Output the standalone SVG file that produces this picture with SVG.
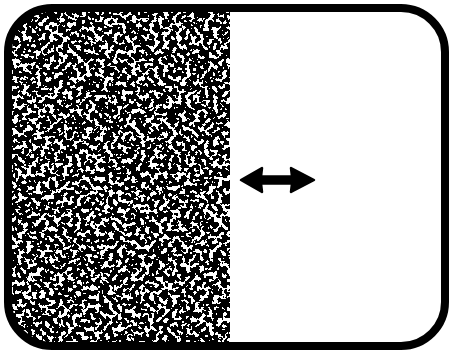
<svg xmlns="http://www.w3.org/2000/svg" width="455" height="354" viewBox="0 0 455 354">
  <defs>
    <clipPath id="inner">
      <rect x="8" y="8" width="437" height="338" rx="44" ry="44"/>
    </clipPath>
    <filter id="grain" filterUnits="userSpaceOnUse" x="0" y="0" width="230" height="354" color-interpolation-filters="sRGB">
      <feTurbulence type="fractalNoise" baseFrequency="0.22" numOctaves="2" seed="7" result="n"/>
      <feColorMatrix in="n" type="matrix" values="1 0 0 0 0  1 0 0 0 0  1 0 0 0 0  0 0 0 0 1" result="g"/>
      <feComponentTransfer in="g">
        <feFuncR type="discrete" tableValues="0 0 0 0 0 0 0 0 0 0 0 1 1 1 1 1 1 1 1 1"/>
        <feFuncG type="discrete" tableValues="0 0 0 0 0 0 0 0 0 0 0 1 1 1 1 1 1 1 1 1"/>
        <feFuncB type="discrete" tableValues="0 0 0 0 0 0 0 0 0 0 0 1 1 1 1 1 1 1 1 1"/>
      </feComponentTransfer>
    </filter>
    <style>
      .frame { fill: none; stroke: #000; stroke-width: 8; }
      .arrow { fill: #000; stroke: #000; stroke-width: 2.5; stroke-linejoin: round; }
    </style>
  </defs>
  <rect width="455" height="354" fill="#fff"/>
  <g id="stippled-half" clip-path="url(#inner)">
    <rect x="0" y="0" width="228" height="354" fill="#000" filter="url(#grain)"/>
  </g>
  <g id="frame">
    <rect class="frame" x="8" y="8" width="437" height="338" rx="44" ry="44"/>
  </g>
  <g id="connectors">
    <path class="arrow" d="M241,180 L262,168 L261,176.5 L292,176.5 L291,168 L314,180 L291,192 L292,183.5 L261,183.5 L262,192 Z"/>
  </g>
</svg>
